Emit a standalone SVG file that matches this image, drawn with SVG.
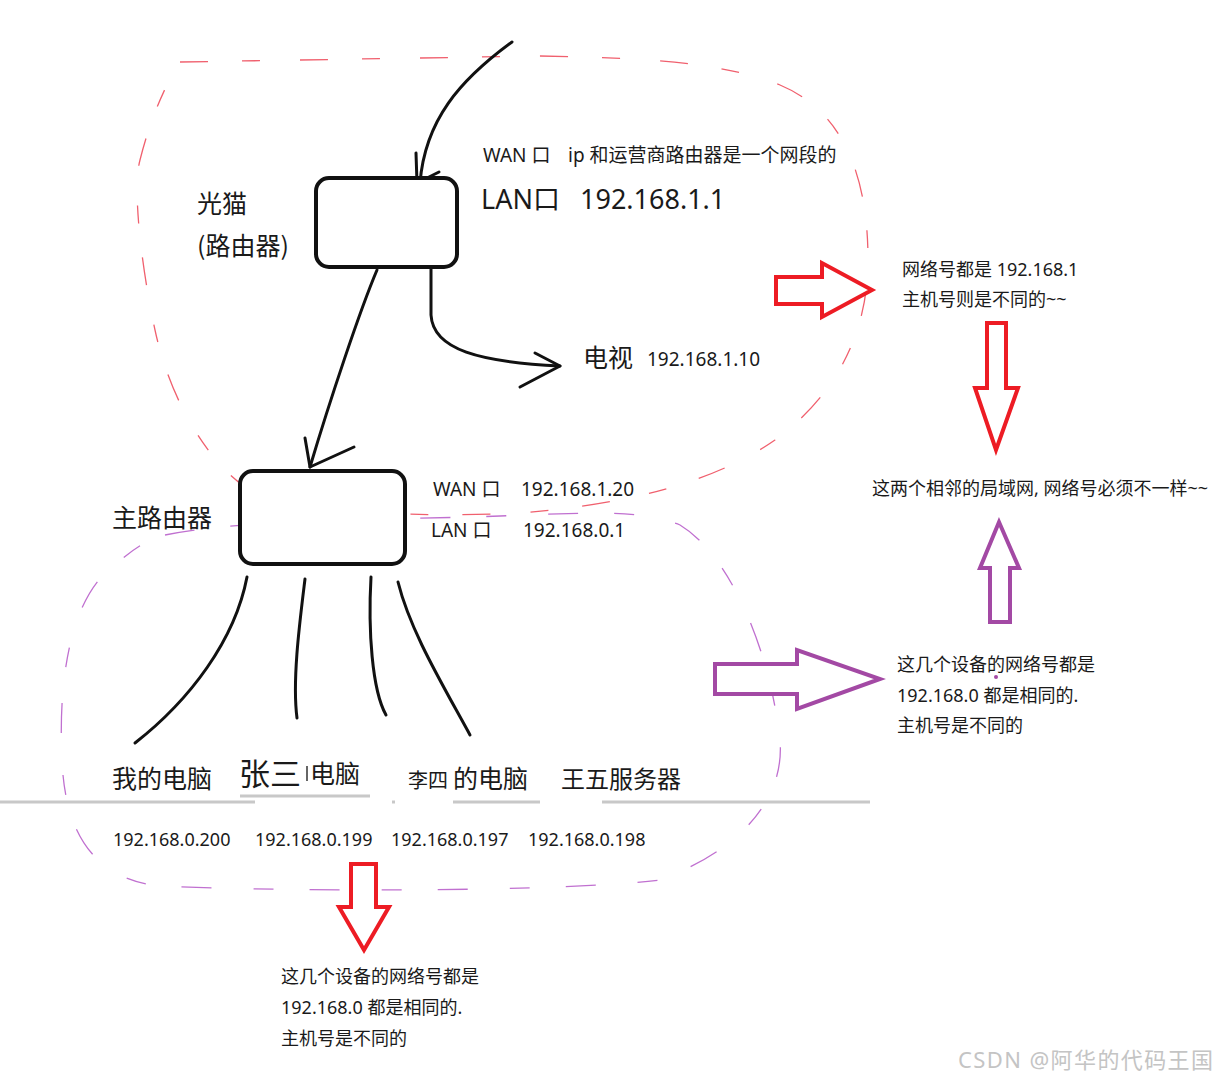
<svg xmlns="http://www.w3.org/2000/svg" width="1217" height="1079" viewBox="0 0 1217 1079">
<style>
text{font-family:"Noto Sans","Noto Sans CJK SC",sans-serif;fill:#1a1a1a;white-space:pre}
.cjk{font-family:"Noto Sans CJK SC","Noto Sans",sans-serif}
.pen{fill:none;stroke:#111;stroke-width:3;stroke-linecap:round;stroke-linejoin:round}
.box{fill:#fff;stroke:#111;stroke-width:4}
.redloop{fill:none;stroke:#f0606e;stroke-width:1.3;stroke-dasharray:28 34 18 40}
.purloop{fill:none;stroke:#c070d0;stroke-width:1.3;stroke-dasharray:30 36 20 42}
.red{fill:#fff;stroke:#ed1c24;stroke-width:4;stroke-linejoin:miter}
.pur{fill:#fff;stroke:#a349a4;stroke-width:4;stroke-linejoin:miter}
.bar{stroke:#c8c8c8;stroke-width:3}
</style>
<rect width="1217" height="1079" fill="#fff"/>
<g id="regions">
<path class="redloop" d="M180,62 L540,56 C650,58 720,62 780,85 C840,110 868,170 868,260 C868,340 830,400 775,440 C710,485 620,505 520,513 C420,518 320,512 260,497 C210,470 170,400 155,330 C142,270 132,190 140,160 C150,120 165,85 180,62 Z"/>
<path class="purloop" d="M165,535 C250,518 400,520 500,516 C600,512 640,510 680,525 C730,555 770,650 780,740 C785,800 740,850 660,880 C560,892 300,892 160,886 C100,880 65,840 62,760 C58,680 70,600 112,567 C130,552 145,540 165,535 Z"/>
</g>
<g id="connectors">
<path class="pen" d="M512,42 C460,80 425,120 420,183"/>
<path class="pen" d="M416,153 L417,183 L439,172"/>
<path class="pen" d="M377,270 C360,310 330,400 310,467"/>
<path class="pen" d="M305,438 L310,467 L354,447"/>
<path class="pen" d="M431,268 L431,315 C433,350 480,362 560,366"/>
<path class="pen" d="M535,353 L560,366 L520,387"/>
<path class="pen" d="M247,577 C235,640 190,700 135,743"/>
<path class="pen" d="M305,579 C300,620 292,680 297,718"/>
<path class="pen" d="M371,577 C368,630 372,690 386,715"/>
<path class="pen" d="M398,582 C410,630 440,680 470,735"/>
</g>
<g id="modem">
<rect class="box" x="316" y="178" width="141" height="89" rx="13"/>
<text class="cjk" x="197" y="213" font-size="25">光猫</text>
<text class="cjk" x="197" y="255" font-size="25">(路由器)</text>
<text x="483" y="162" font-size="19">WAN 口</text>
<text x="568" y="162" font-size="19">ip 和运营商路由器是一个网段的</text>
<text x="481" y="209" font-size="27">LAN口</text>
<text x="580" y="209" font-size="27">192.168.1.1</text>
</g>
<g id="tv">
<text class="cjk" x="583" y="367" font-size="25">电视</text>
<text x="647" y="366" font-size="19">192.168.1.10</text>
</g>
<g id="main-router">
<rect class="box" x="240" y="471" width="165" height="93" rx="13"/>
<text class="cjk" x="112" y="527" font-size="25">主路由器</text>
<text x="433" y="496" font-size="19">WAN 口</text>
<text x="521" y="496" font-size="19">192.168.1.20</text>
<text x="431" y="537" font-size="19">LAN 口</text>
<text x="523" y="537" font-size="19">192.168.0.1</text>
</g>
<g id="devices">
<line class="bar" x1="0" y1="802" x2="255" y2="802"/>
<line class="bar" x1="240" y1="796" x2="370" y2="796"/>
<line class="bar" x1="392" y1="802" x2="395" y2="802"/>
<line class="bar" x1="453" y1="802" x2="540" y2="802"/>
<line class="bar" x1="602" y1="802" x2="870" y2="802"/>
<text class="cjk" x="112" y="788" font-size="25">我的电脑</text>
<text class="cjk" x="239" y="785" font-size="31">张三</text>
<line x1="307" y1="766" x2="307" y2="781" stroke="#333" stroke-width="1.5"/>
<text class="cjk" x="310" y="783" font-size="25">电脑</text>
<text class="cjk" x="408" y="788" font-size="20">李四</text>
<text class="cjk" x="453" y="788" font-size="25">的电脑</text>
<text class="cjk" x="561" y="788" font-size="24">王五服务器</text>
<text x="113" y="846" font-size="18">192.168.0.200</text>
<text x="255" y="846" font-size="18">192.168.0.199</text>
<text x="391" y="846" font-size="18">192.168.0.197</text>
<text x="528" y="846" font-size="18">192.168.0.198</text>
</g>
<g id="note-upper">
<polygon class="red" points="776,277 822,277 822,263 872,290 822,317 822,304 776,304"/>
<text x="902" y="276" font-size="18">网络号都是 192.168.1</text>
<text x="902" y="306" font-size="18">主机号则是不同的~~</text>
<polygon class="red" points="987,323 1006,323 1006,388 1018,388 996,450 975,388 987,388"/>
</g>
<g id="note-center">
<text x="872" y="495" font-size="18">这两个相邻的局域网, 网络号必须不一样~~</text>
</g>
<g id="note-lower">
<polygon class="pur" points="990,622 1010,622 1010,568 1019,568 999,522 980,568 990,568"/>
<polygon class="pur" points="715,664 797,664 797,650 880,679 797,709 797,694 715,694"/>
<text x="897" y="671" font-size="18">这几个设备的网络号都是</text>
<circle cx="996" cy="677" r="2" fill="#a349a4"/>
<text x="897" y="702" font-size="18">192.168.0 都是相同的.</text>
<text x="897" y="732" font-size="18">主机号是不同的</text>
</g>
<g id="note-bottom">
<polygon class="red" points="351,864 376,864 376,907 389,907 364,950 339,907 351,907"/>
<text x="281" y="983" font-size="18">这几个设备的网络号都是</text>
<text x="281" y="1014" font-size="18">192.168.0 都是相同的.</text>
<text x="281" y="1045" font-size="18">主机号是不同的</text>
</g>
<g id="watermark">
<text x="958" y="1068" font-size="22" textLength="255" lengthAdjust="spacing" style="fill:#c4c4c4">CSDN @阿华的代码王国</text>
</g>
</svg>
